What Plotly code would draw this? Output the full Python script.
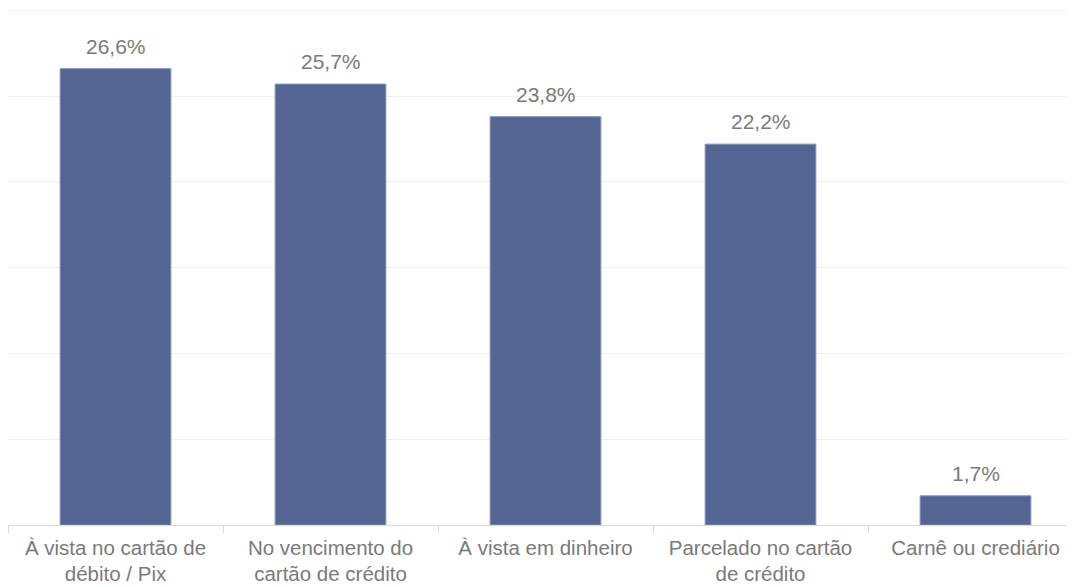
import plotly.graph_objects as go

categories = ["À vista no cartão de<br>débito / Pix", "No vencimento do<br>cartão de crédito",
              "À vista em dinheiro", "Parcelado no cartão<br>de crédito", "Carnê ou crediário"]
values = [26.6, 25.7, 23.8, 22.2, 1.7]
labels = [f"{v:.1f}%".replace(".", ",") for v in values]

fig = go.Figure(go.Bar(
    x=categories, y=values,
    marker=dict(color="#536592", line=dict(color="#8593b5", width=1)),
    width=0.515,
))
for c, v, t in zip(categories, values, labels):
    fig.add_annotation(x=c, y=v, text=t, showarrow=False, yanchor="bottom", yshift=9,
                       font=dict(family="Liberation Sans, Arial", size=21, color="#7a7a7a"))
fig.add_shape(type="line", xref="paper", x0=0, x1=1, yref="y", y0=30, y1=30,
              line=dict(color="#efefef", width=1), layer="below")
fig.update_layout(
    width=1075, height=587, margin=dict(l=0, r=0, t=2, b=70),
    plot_bgcolor="white", paper_bgcolor="white", showlegend=False,
    font=dict(family="Liberation Sans, Arial", color="#7a7a7a"),
    xaxis=dict(range=[-0.5, 4.5], showgrid=False, showline=True, linecolor="#d9d9d9",
               ticks="outside", tickson="boundaries", ticklen=7, tickcolor="#d9d9d9",
               ticklabelstandoff=4,
               tickfont=dict(size=20.5, color="#7a7a7a")),
    yaxis=dict(range=[0, 30.02], dtick=5, showgrid=True, gridcolor="#efefef",
               showticklabels=False, zeroline=False, fixedrange=True),
)
fig.write_html("out.html")
